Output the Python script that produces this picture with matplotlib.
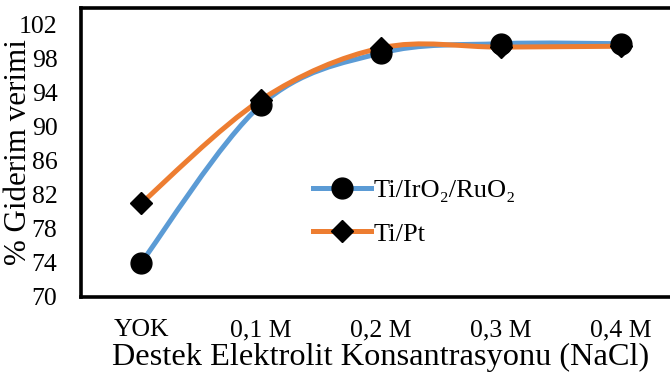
import numpy as np
import matplotlib

matplotlib.use("Agg")
import matplotlib.pyplot as plt
from matplotlib.path import Path
from matplotlib.patches import PathPatch
from matplotlib.lines import Line2D

plt.rcParams["font.family"] = ["Liberation Serif", "DejaVu Serif"]

CATEGORIES = ["YOK", "0,1 M", "0,2 M", "0,3 M", "0,4 M"]
IRO2_RUO2 = [74.0, 92.6, 98.7, 99.8, 99.8]
TI_PT = [81.0, 93.2, 99.3, 99.4, 99.5]
Y_TICKS = [70, 74, 78, 82, 86, 90, 94, 98, 102]

BLUE = "#5B9BD5"
ORANGE = "#ED7D31"


def smooth_path(xs, ys):
    # Excel-like smoothed line: cubic Bezier with Catmull-Rom control points
    pts = np.column_stack([xs, ys]).astype(float)
    verts = [pts[0]]
    codes = [Path.MOVETO]
    n = len(pts)
    for i in range(n - 1):
        p0 = pts[i - 1] if i > 0 else pts[i]
        p1 = pts[i]
        p2 = pts[i + 1]
        p3 = pts[i + 2] if i + 2 < n else pts[i + 1]
        c1 = p1 + (p2 - p0) / 6.0
        c2 = p2 - (p3 - p1) / 6.0
        verts += [c1, c2, p2]
        codes += [Path.CURVE4] * 3
    return Path(verts, codes)


fig = plt.figure(figsize=(6.7, 3.83), dpi=100)
ax = fig.add_axes([81 / 670, 1 - 297 / 383, 600 / 670, 289 / 383])

x = np.arange(len(CATEGORIES))
for ys, color in [(IRO2_RUO2, BLUE), (TI_PT, ORANGE)]:
    ax.add_patch(PathPatch(smooth_path(x, ys), facecolor="none", edgecolor=color,
                           linewidth=3.6, capstyle="round", zorder=2))

ax.plot(x, TI_PT, linestyle="none", marker="D", markersize=11.5, color="black", zorder=3)
ax.plot(x, IRO2_RUO2, linestyle="none", marker="o", markersize=15, color="black", zorder=4)

ax.set_xlim(-0.5, len(CATEGORIES) - 0.5)
ax.set_ylim(70, 104)
ax.set_xticks(x)
ax.set_xticklabels(CATEGORIES)
ax.set_yticks(Y_TICKS)
ax.tick_params(length=0, labelsize=18.5)
ax.tick_params(axis="y", pad=17)
ax.tick_params(axis="x", pad=16)
for spine in ax.spines.values():
    spine.set_linewidth(2.6)
    spine.set_color("black")

ax.set_xlabel("Destek Elektrolit Konsantrasyonu (NaCl)", fontsize=23.3, labelpad=0)
ax.set_ylabel("% Giderim verimi", fontsize=22.3, labelpad=0)
ax.yaxis.set_label_coords(-0.08, 0.5)
ax.xaxis.set_label_coords(0.5, -0.16)

handles = [
    Line2D([0], [0], color=BLUE, linewidth=3.6, marker="o", markersize=15,
           markerfacecolor="black", markeredgecolor="black"),
    Line2D([0], [0], color=ORANGE, linewidth=3.6, marker="D", markersize=11.5,
           markerfacecolor="black", markeredgecolor="black"),
]
ax.legend(handles, ["Ti/IrO\u2082/RuO\u2082", "Ti/Pt"], loc="center left",
          bbox_to_anchor=(0.347, 0.293), frameon=False, fontsize=19,
          handlelength=2.2, handletextpad=0.1, labelspacing=0.75)

fig.savefig("out.png", dpi=100)
